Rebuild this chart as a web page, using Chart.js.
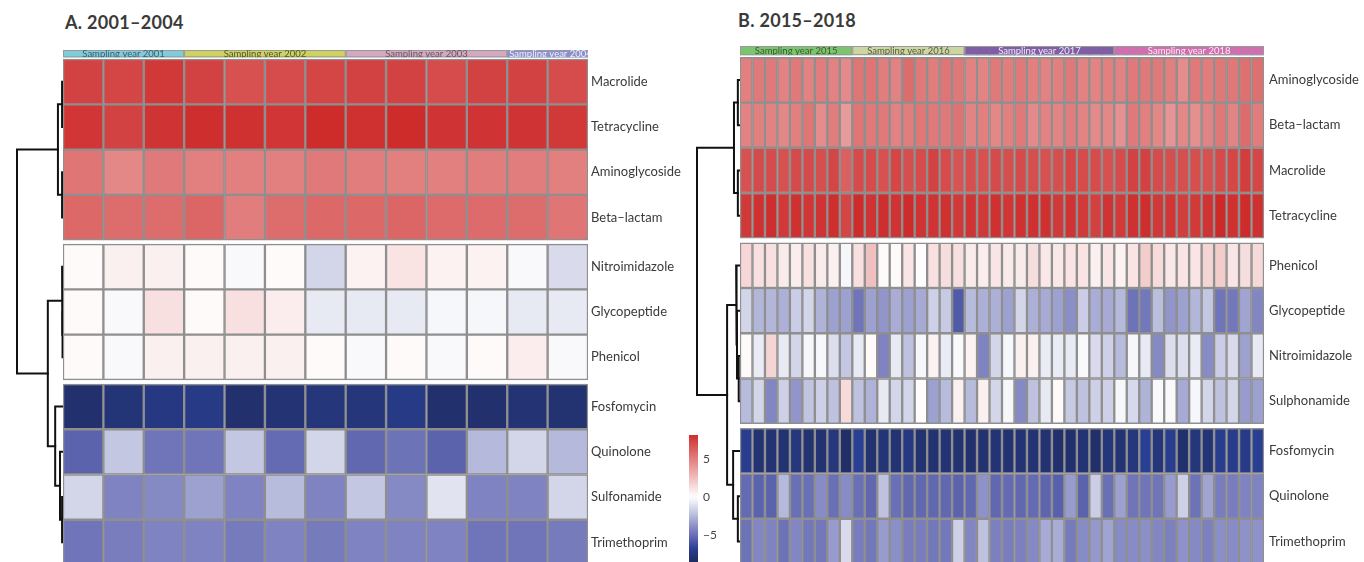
<!DOCTYPE html>
<html>
<head>
<meta charset="utf-8">
<script src="https://cdn.jsdelivr.net/npm/chart.js@4.4.1/dist/chart.umd.min.js"></script>
<style>
  body { margin: 0; background: #fff; overflow: hidden; font-family: Lato, sans-serif; }
  #page { position: relative; width: 1364px; height: 562px; overflow: hidden; }
  canvas { position: absolute; }
  .title { position: absolute; font-weight: bold; font-size: 18px; color: #3a3a3a; letter-spacing: 0.3px; }
</style>
</head>
<body>
<div id="page">
  <div class="title" style="left:65px;top:11px">A. 2001–2004</div>
  <div class="title" style="left:738px;top:9px">B. 2015–2018</div>
  <canvas id="dendA" width="60" height="515" style="left:10px;top:50px"></canvas>
  <canvas id="heatA" width="625" height="515" style="left:63px;top:50px"></canvas>
  <canvas id="dendB" width="57" height="518" style="left:690px;top:46px"></canvas>
  <canvas id="heatB" width="624" height="518" style="left:740px;top:46px"></canvas>
  <canvas id="legend" width="40" height="127" style="left:685px;top:435px"></canvas>
</div>
<script>
// ---- panel A : 2001-2004 ----
const rowsA = ['Macrolide', 'Tetracycline', 'Aminoglycoside', 'Beta–lactam', 'Nitroimidazole', 'Glycopeptide',
  'Phenicol', 'Fosfomycin', 'Quinolone', 'Sulfonamide', 'Trimethoprim'];
const clustersA = [4, 3, 4];
const yearsA = ['2001', '2002', '2003', '2004'];
const yearSamplesA = [3, 4, 4, 2];

const macrolideA      = [7.4, 7.3, 7.8, 7.4, 6.8, 7.0, 7.3, 7.4, 7.4, 7.0, 7.4, 7.4, 7.0];
const tetracyclineA   = [7.9, 7.4, 8.0, 8.2, 8.1, 7.9, 8.3, 8.1, 8.3, 8.0, 8.0, 8.0, 7.8];
const aminoglycosideA = [5.4, 4.7, 5.2, 5.0, 5.0, 5.0, 5.2, 5.1, 5.0, 5.0, 5.1, 5.1, 5.0];
const betaLactamA     = [5.9, 5.7, 5.7, 6.0, 5.1, 5.7, 5.9, 5.9, 6.0, 5.8, 5.8, 5.7, 5.4];
const nitroimidazoleA = [0.2, 0.6, 0.6, 0.2, -0.2, 0.2, -1.5, 0.5, 1.1, 0.5, 0.5, -0.2, -1.3];
const glycopeptideA   = [0.2, -0.2, 1.2, 0.2, 1.2, 0.7, -0.8, -0.8, -0.8, -0.3, -0.3, -0.8, -0.8];
const phenicolA       = [0.2, -0.2, 0.6, 0.6, 0.6, 0.6, 0.2, -0.2, 0.2, -0.2, 0.2, 0.7, -0.2];
const fosfomycinA     = [-8.0, -7.7, -7.4, -7.3, -8.0, -7.8, -7.6, -7.6, -7.3, -8.0, -8.0, -7.8, -7.9];
const quinoloneA      = [-5.5, -2.0, -4.8, -4.8, -2.0, -5.2, -1.5, -5.3, -4.9, -5.5, -2.5, -1.5, -2.5];
const sulfonamideA    = [-1.5, -4.3, -4.1, -3.3, -4.3, -2.4, -4.3, -2.0, -4.1, -1.0, -4.3, -4.3, -1.5];
const trimethoprimA   = [-4.8, -4.5, -4.3, -4.3, -4.6, -4.3, -4.6, -4.3, -4.3, -4.3, -4.8, -4.8, -4.6];

// hclust style merges: negative = row (1-based), positive = earlier merge, then height
const mergeA = [
  [-1, -2, 0.02], [-3, -4, 0.02], [1, 2, 0.11],
  [-6, -7, 0.01], [-5, 4, 0.02],
  [-10, -11, 0.02], [-9, 6, 0.065], [-8, 7, 0.17],
  [5, 8, 0.33], [3, 9, 1.0]
];

// ---- panel B : 2015-2018 ----
const rowsB = ['Aminoglycoside', 'Beta–lactam', 'Macrolide', 'Tetracycline', 'Phenicol', 'Glycopeptide',
  'Nitroimidazole', 'Sulphonamide', 'Fosfomycin', 'Quinolone', 'Trimethoprim'];
const clustersB = [4, 4, 3];
const yearsB = ['2015', '2016', '2017', '2018'];
const yearSamplesB = [9, 9, 12, 12];

const aminoglycosideB = [5.0, 5.2, 5.2, 4.9, 5.2, 4.9, 5.1, 4.9, 4.6, 5.4, 5.4, 5.1, 4.9, 5.7, 5.2, 5.1, 5.4, 5.3, 4.9, 4.8, 5.2,
  5.1, 5.2, 5.0, 4.9, 5.0, 5.2, 4.9, 4.8, 5.0, 4.9, 5.2, 5.2, 5.2, 5.0, 4.5, 5.2, 5.1, 5.3, 5.3, 5.6, 5.6];
const betaLactamB = [4.9, 5.0, 4.9, 4.7, 5.0, 5.4, 4.5, 5.1, 3.9, 5.4, 5.2, 5.2, 4.9, 5.1, 5.3, 5.2, 5.2, 5.5, 4.8, 5.0, 4.7,
  5.0, 5.2, 4.6, 4.9, 4.8, 5.1, 4.8, 4.6, 4.7, 4.3, 5.2, 5.0, 4.7, 4.2, 4.7, 4.4, 4.8, 5.3, 4.8, 5.7, 5.1];
const macrolideB = [6.8, 7.1, 7.0, 6.8, 7.1, 7.1, 6.9, 7.3, 6.2, 7.1, 7.0, 6.8, 7.2, 6.9, 7.0, 7.4, 7.0, 6.7, 6.9, 6.8, 7.1,
  6.9, 7.1, 6.9, 6.8, 6.9, 7.2, 7.0, 7.0, 6.8, 7.0, 7.4, 7.4, 7.0, 6.9, 6.9, 6.9, 6.8, 7.1, 7.2, 7.6, 7.2];
const tetracyclineB = [7.8, 8.1, 8.2, 7.8, 8.1, 7.9, 8.0, 8.2, 7.3, 8.3, 8.0, 8.2, 8.0, 8.3, 8.0, 8.0, 8.1, 7.8, 8.0, 7.8, 8.1,
  7.9, 8.1, 8.1, 8.1, 7.8, 8.0, 7.7, 7.5, 8.0, 7.7, 8.1, 8.2, 7.8, 7.9, 7.6, 7.7, 8.0, 8.4, 8.1, 8.3, 8.1];
const phenicolB = [1.6, 1.2, 1.2, 0.8, 0.7, 1.2, 0.8, 0.6, -0.3, 1.2, 2.5, 0.2, 0.2, 1.0, 0.1, 1.2, 1.3, 1.2, 0.8, 0.7, 1.0,
  0.8, 0.8, 1.3, 0.9, 0.9, 1.1, 1.1, 0.6, 1.0, 0.5, 1.1, 2.0, 1.4, 0.9, 1.1, 1.0, 1.7, 2.0, 1.0, 1.3, 1.5];
const glycopeptideB = [-1.5, -2.6, -2.6, -2.8, -1.8, -1.5, -2.7, -3.3, -3.3, -4.8, -3.3, -3.7, -2.9, -3.3, -3.0, -1.7, -1.9, -5.8, -2.4, -2.8, -2.8,
  -3.3, -1.5, -2.8, -3.0, -3.3, -3.9, -1.8, -2.9, -3.0, -2.5, -4.9, -4.7, -2.3, -3.7, -3.3, -2.6, -2.0, -4.8, -4.7, -3.2, -4.2];
const nitroimidazoleB = [0.2, -0.7, 1.7, -0.8, -1.5, -0.3, -0.3, -1.2, -2.0, -0.8, 0.2, -4.3, -0.8, -2.2, -0.3, 0.5, -0.7, -0.2, 0.5, -4.3, -1.5,
  -0.3, 0.6, 0.6, -0.7, -0.7, -0.8, -0.2, -1.3, -1.7, -2.4, -0.3, -0.8, -4.1, -1.2, -1.2, -0.7, -4.0, -1.8, -1.3, -3.3, -0.8];
const sulphonamideB = [-2.4, -1.5, -4.2, -1.7, -3.7, -2.1, -1.7, -2.2, 1.4, -2.2, -2.7, -0.8, -1.5, -1.5, 0.1, -3.3, -2.4, 0.6, -2.4, 0.6, -1.5,
  -0.3, -4.1, -2.2, -0.8, 0.2, -1.9, -2.2, -1.7, -1.7, -0.3, -1.4, -2.7, -0.2, -0.2, -3.0, -0.3, -1.5, -2.2, -1.5, -3.5, -3.3];
const fosfomycinB = [-7.0, -7.9, -7.8, -7.9, -7.5, -7.9, -7.9, -7.5, -8.2, -6.9, -7.9, -7.7, -7.8, -7.4, -7.9, -7.9, -7.8, -7.9, -8.0, -7.9, -7.8,
  -7.9, -7.8, -7.8, -7.9, -8.0, -8.0, -7.8, -8.1, -7.6, -7.8, -7.5, -6.9, -7.6, -7.0, -8.0, -7.6, -7.7, -7.0, -7.1, -7.2, -6.9];
const quinoloneB = [-5.2, -5.5, -5.5, -2.5, -5.0, -5.0, -4.0, -5.0, -4.0, -5.0, -5.3, -2.2, -5.0, -5.3, -5.3, -5.3, -5.3, -5.5, -5.3, -3.8, -5.3,
  -5.2, -5.3, -5.2, -5.4, -5.6, -3.5, -5.5, -1.8, -5.0, -3.3, -4.8, -4.8, -4.8, -3.5, -1.7, -4.9, -3.2, -4.5, -4.5, -4.3, -4.3];
const trimethoprimB = [-4.9, -4.2, -4.3, -4.9, -4.2, -4.7, -4.7, -3.5, -1.3, -4.5, -4.7, -3.5, -3.9, -4.5, -4.5, -4.7, -4.7, -1.7, -4.2, -2.2, -4.4,
  -4.5, -4.4, -4.1, -3.0, -2.9, -4.6, -4.0, -3.6, -3.2, -4.0, -4.0, -3.9, -4.2, -4.4, -3.8, -4.1, -4.4, -3.9, -4.0, -3.8, -3.8];

const mergeB = [
  [-1, -2, 0.05], [-3, -4, 0.05], [1, 2, 0.14],
  [-7, -8, 0.03], [-6, 4, 0.07], [-5, 5, 0.09],
  [-10, -11, 0.05], [-9, 7, 0.16],
  [6, 8, 0.30], [3, 9, 1.0]
];

// colour key
const keyRange = [-8.6, 8.2];
const keyTicks = [5, 0, -5];

const valuesA = [macrolideA, tetracyclineA, aminoglycosideA, betaLactamA, nitroimidazoleA, glycopeptideA,
  phenicolA, fosfomycinA, quinoloneA, sulfonamideA, trimethoprimA];
const valuesB = [aminoglycosideB, betaLactamB, macrolideB, tetracyclineB, phenicolB, glycopeptideB,
  nitroimidazoleB, sulphonamideB, fosfomycinB, quinoloneB, trimethoprimB];

const redStops = [[0, [255, 255, 255]], [1, [205, 38, 38]]];
const blueStops = [[0, [255, 255, 255]], [0.3, [180, 184, 218]], [0.5, [128, 132, 194]], [0.65, [90, 98, 172]],
  [0.8, [42, 64, 150]], [0.95, [34, 48, 106]], [1, [32, 45, 100]]];

function heatColour(v) {
  const f = Math.min(Math.abs(v) / 8.5, 1);
  const stops = v >= 0 ? redStops : blueStops;
  for (let i = 1; i < stops.length; i++) {
    if (f <= stops[i][0]) {
      const t = (f - stops[i - 1][0]) / (stops[i][0] - stops[i - 1][0]);
      const c = stops[i - 1][1].map((a, k) => Math.round(a + (stops[i][1][k] - a) * t));
      return 'rgb(' + c.join(',') + ')';
    }
  }
  return 'rgb(' + stops[stops.length - 1][1].join(',') + ')';
}

function rowTops(clusters, start, gap) {
  const tops = [];
  let y = start;
  clusters.forEach(n => {
    for (let i = 0; i < n; i++) { tops.push(y); y += 1; }
    y += gap;
  });
  return tops;
}

const yearBands = {
  id: 'yearBands',
  afterDatasetsDraw(chart, args, opts) {
    const { ctx, scales: { x, y } } = chart;
    const w = x.getPixelForValue(1) - x.getPixelForValue(0);
    let start = 0;
    opts.names.forEach((name, k) => {
      const n = opts.counts[k];
      const x0 = x.getPixelForValue(start) - w / 2;
      const x1 = x.getPixelForValue(start + n - 1) + w / 2;
      const y0 = y.getPixelForValue(0), y1 = y.getPixelForValue(opts.height);
      const label = 'Sampling year ' + name;
      ctx.save();
      ctx.strokeStyle = '#9a9a9a';
      ctx.lineWidth = 1;
      ctx.strokeRect(x0 + 0.5, y0 + 0.5, x1 - x0 - 1, y1 - y0 - 1);
      ctx.beginPath();
      ctx.rect(x0, y0, x1 - x0, y1 - y0);
      ctx.clip();
      ctx.fillStyle = opts.ink[k];
      ctx.font = '9.5px Lato';
      ctx.textAlign = 'left';
      ctx.textBaseline = 'middle';
      // too long labels start at the band's left edge and run out on the right
      const tw = ctx.measureText(label).width;
      const tx = Math.max((x0 + x1) / 2 - tw / 2, x0 + 2);
      ctx.fillText(label, tx, (y0 + y1) / 2 + 0.5);
      ctx.restore();
      start += n;
    });
  }
};

function drawPanel(p) {
  const cols = p.values[0].map((_, i) => 'c' + (i + 1));
  const tops = rowTops(p.clusters, p.annH + p.annGap, p.gap);
  const total = tops[tops.length - 1] + 1;
  const colYear = [];
  p.yearSamples.forEach((n, k) => { for (let j = 0; j < n; j++) colYear.push(k); });

  const datasets = p.rows.map((name, r) => ({
    label: name,
    data: p.values[r].map((v, c) => ({ x: cols[c], y: [tops[r], tops[r] + 1] })),
    backgroundColor: p.values[r].map(heatColour),
    borderColor: '#8f8f8f',
    borderWidth: 1.5,
    borderSkipped: false
  }));
  datasets.push({
    label: 'year',
    data: cols.map(c => ({ x: c, y: [0, p.annH] })),
    backgroundColor: colYear.map(k => p.yearFill[k]),
    borderWidth: 0
  });

  new Chart(p.heatId, {
    type: 'bar',
    data: { labels: cols, datasets },
    plugins: [yearBands],
    options: {
      responsive: false,
      animation: false,
      events: [],
      layout: { padding: 0 },
      datasets: { bar: { grouped: false, barPercentage: 1, categoryPercentage: 1 } },
      plugins: {
        legend: { display: false },
        tooltip: { enabled: false },
        yearBands: { names: p.years, counts: p.yearSamples, height: p.annH, ink: p.yearInk }
      },
      scales: {
        x: { type: 'category', display: false },
        y: {
          type: 'linear', min: 0, max: total, reverse: true, position: 'right',
          grid: { display: false, drawTicks: false }, border: { display: false },
          afterBuildTicks: s => { s.ticks = tops.map(t => ({ value: t + 0.5 })); },
          afterFit: s => { s.width = 100; s.paddingTop = 0; s.paddingBottom = 0; },
          ticks: {
            autoSkip: false, padding: p.labelPad, color: '#3a3a3a',
            font: { family: 'Lato', size: 13 },
            callback: (v, i) => p.rows[i]
          }
        }
      }
    }
  });

  // dendrogram from the merge table
  const leafY = tops.map(t => t + 0.5);
  const nodeY = [], nodeH = [];
  const pos = id => id < 0 ? { y: leafY[-id - 1], h: 0 } : { y: nodeY[id - 1], h: nodeH[id - 1] };
  const lines = p.merge.map(([a, b, h], i) => {
    const pa = pos(a), pb = pos(b);
    nodeY[i] = (pa.y + pb.y) / 2;
    nodeH[i] = h;
    return {
      data: [{ x: pa.h, y: pa.y }, { x: h, y: pa.y }, { x: h, y: pb.y }, { x: pb.h, y: pb.y }],
      borderColor: '#111', borderWidth: 2, pointRadius: 0, showLine: true,
      tension: 0, clip: false, borderCapStyle: 'square', borderJoinStyle: 'miter'
    };
  });

  new Chart(p.dendId, {
    type: 'scatter',
    data: { datasets: lines },
    options: {
      responsive: false,
      animation: false,
      events: [],
      layout: { padding: { left: 7, right: 7, top: 0, bottom: 0 } },
      plugins: { legend: { display: false }, tooltip: { enabled: false } },
      scales: {
        x: { type: 'linear', min: 0, max: 1, reverse: true, display: false },
        y: { type: 'linear', min: 0, max: total, reverse: true, display: false }
      }
    }
  });
}

drawPanel({
  heatId: 'heatA', dendId: 'dendA', rows: rowsA, values: valuesA, clusters: clustersA, merge: mergeA,
  years: yearsA, yearSamples: yearSamplesA,
  yearFill: ['#80ccd8', '#cdd260', '#d2a9bf', '#8a8fd0'],
  yearInk: ['#3d5d72', '#55582a', '#6a5464', '#eeeefa'],
  annH: 0.16, annGap: 0.04, gap: 0.09, labelPad: 3
});

drawPanel({
  heatId: 'heatB', dendId: 'dendB', rows: rowsB, values: valuesB, clusters: clustersB, merge: mergeB,
  years: yearsB, yearSamples: yearSamplesB,
  yearFill: ['#7cc46e', '#ccd6a2', '#805ea6', '#d06faf'],
  yearInk: ['#385a30', '#575d44', '#eee8f6', '#faeaf4'],
  annH: 0.2, annGap: 0.05, gap: 0.1, labelPad: 5
});

new Chart('legend', {
  type: 'bar',
  data: {
    labels: ['key'],
    datasets: [{
      data: [keyRange],
      borderWidth: 0,
      barPercentage: 1,
      categoryPercentage: 1,
      backgroundColor: ctx => {
        const chart = ctx.chart;
        if (!chart.chartArea) return '#fff';
        const y = chart.scales.y;
        const g = chart.ctx.createLinearGradient(0, y.getPixelForValue(keyRange[1]), 0, y.getPixelForValue(keyRange[0]));
        for (let i = 0; i <= 40; i++) {
          const v = keyRange[1] - (keyRange[1] - keyRange[0]) * i / 40;
          g.addColorStop(i / 40, heatColour(v));
        }
        return g;
      }
    }]
  },
  options: {
    responsive: false,
    animation: false,
    events: [],
    layout: { padding: { left: 4 } },
    plugins: { legend: { display: false }, tooltip: { enabled: false } },
    scales: {
      x: { display: false },
      y: {
        type: 'linear', min: keyRange[0], max: keyRange[1], position: 'right',
        grid: { display: false, drawTicks: false }, border: { display: false },
        afterBuildTicks: s => { s.ticks = keyTicks.map(v => ({ value: v })); },
        afterFit: s => { s.width = 27; s.paddingTop = 0; s.paddingBottom = 0; },
        ticks: {
          padding: 5, color: '#444', font: { family: 'Lato', size: 12 },
          callback: v => v < 0 ? '\u2212' + (-v) : String(v)
        }
      }
    }
  }
});
</script>
</body>
</html>
